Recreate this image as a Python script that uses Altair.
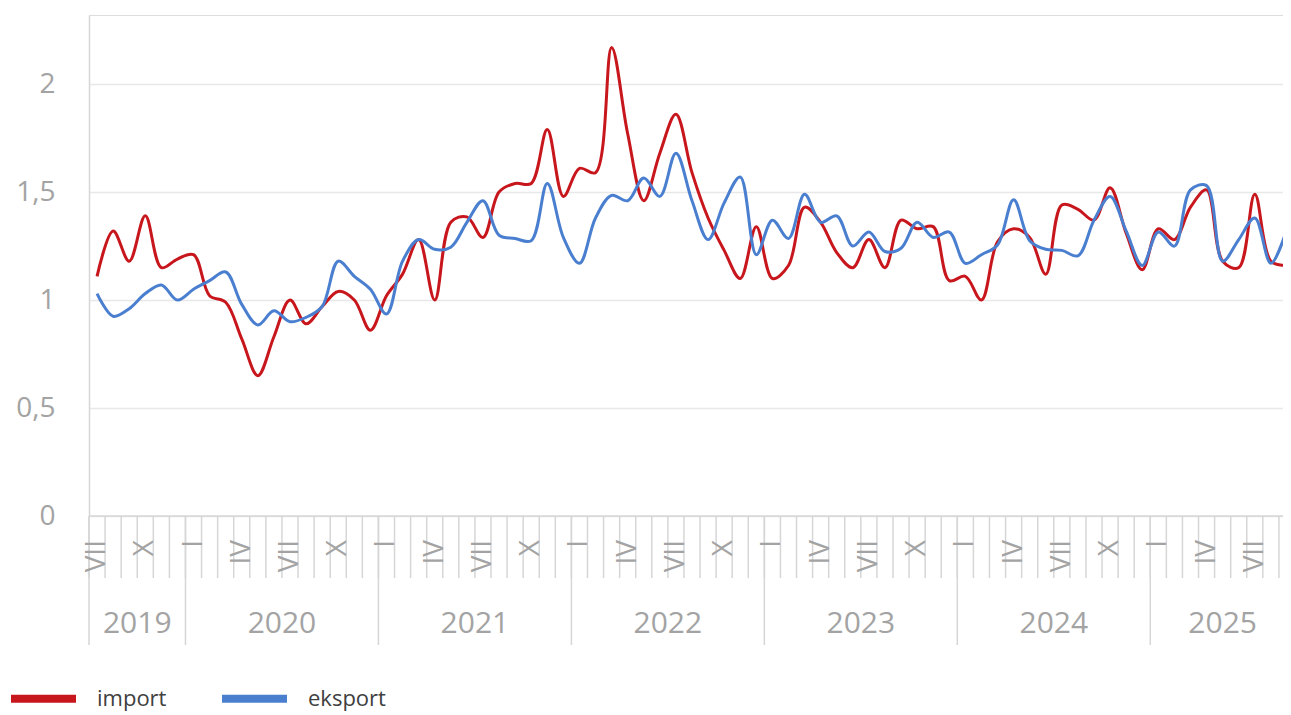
import altair as alt
import pandas as pd

# ---------------- data ----------------
ROMAN = ["I", "II", "III", "IV", "V", "VI", "VII", "VIII", "IX", "X", "XI", "XII"]
LABELLED_MONTHS = ["I", "IV", "VII", "X"]
START_YEAR, START_MONTH = 2019, 7
SERIES = ["import", "eksport"]

import_vals = [
    1.11, 1.32, 1.18, 1.39, 1.15, 1.19,                                  # 2019 VII-XII
    1.21, 1.02, 0.99, 0.82, 0.65, 0.83, 1.00, 0.89, 0.97, 1.04, 1.00, 0.86,  # 2020
    1.02, 1.12, 1.28, 1.00, 1.36, 1.385, 1.29, 1.50, 1.54, 1.54, 1.79, 1.48,  # 2021
    1.61, 1.59, 2.17, 1.77, 1.46, 1.68, 1.86, 1.59, 1.38, 1.23, 1.10, 1.34,  # 2022
    1.10, 1.16, 1.43, 1.36, 1.22, 1.15, 1.28, 1.15, 1.37, 1.33, 1.34, 1.09,  # 2023
    1.11, 1.00, 1.27, 1.33, 1.29, 1.12, 1.44, 1.42, 1.37, 1.52, 1.31, 1.14,  # 2024
    1.33, 1.28, 1.43, 1.51, 1.18, 1.15, 1.49, 1.18, 1.16,                    # 2025 I-IX
]
eksport_vals = [
    1.03, 0.925, 0.96, 1.03, 1.07, 1.00,
    1.05, 1.09, 1.13, 0.98, 0.885, 0.95, 0.90, 0.92, 0.97, 1.18, 1.11, 1.05,
    0.935, 1.18, 1.28, 1.235, 1.245, 1.36, 1.46, 1.30, 1.285, 1.275, 1.54, 1.29,
    1.17, 1.38, 1.485, 1.46, 1.565, 1.48, 1.68, 1.46, 1.28, 1.45, 1.57, 1.21,
    1.37, 1.285, 1.49, 1.36, 1.39, 1.25, 1.315, 1.225, 1.24, 1.36, 1.29, 1.315,
    1.17, 1.21, 1.255, 1.465, 1.275, 1.235, 1.23, 1.205, 1.37, 1.48, 1.32, 1.16,
    1.315, 1.25, 1.51, 1.53, 1.18, 1.28, 1.38, 1.17, 1.33,
]
Y_TICKS = [0, 0.5, 1, 1.5, 2]

# ---------------- tables ----------------
N = len(import_vals)
rows = []
for k in range(N):
    mm = (START_MONTH - 1 + k) % 12
    yy = START_YEAR + (START_MONTH - 1 + k) // 12
    rows.append({"idx": k, "year": yy, "month": ROMAN[mm],
                 "import": import_vals[k], "eksport": eksport_vals[k]})
months = pd.DataFrame(rows)

lines_df = months.melt(id_vars=["idx", "year", "month"], value_vars=SERIES,
                       var_name="series", value_name="value")

ticks_df = pd.DataFrame({"b": [k - 0.5 for k in range(N + 1)]})
long_b = [-0.5] + [r["idx"] - 0.5 for r in rows if r["month"] == "I"] + [N - 0.5]
long_df = pd.DataFrame({"b": long_b})
mlab_df = months[months["month"].isin(LABELLED_MONTHS)][["idx", "month"]]
year_df = months.groupby("year", as_index=False)["idx"].mean()
year_df["ylabel"] = year_df["year"].astype(str)
base_df = pd.DataFrame({"v": [0]})

# ---------------- style ----------------
FONT = "Open Sans"
RED = "#c8161d"
BLUE = "#4a7fd0"
GRAY_TXT = "#a3a3a3"
TICK = "#d6d6d6"
GRID = "#e8e8e8"
PX_PER_MONTH = 16.08          # the original plot runs slightly past the right edge
W, H = 1194, 501
x_end = -0.5 + W / PX_PER_MONTH

xscale = alt.Scale(domain=[-0.5, x_end], nice=False, zero=False)
yscale = alt.Scale(domain=[0, 2.32], nice=False, zero=True)

color = alt.Color(
    "series:N",
    scale=alt.Scale(domain=SERIES, range=[RED, BLUE]),
    legend=alt.Legend(
        title=None, orient="none", legendX=-82, legendY=647,
        direction="horizontal", symbolType="stroke", symbolSize=4225,
        symbolStrokeWidth=8, labelFontSize=22, labelColor="#404040",
        labelFont=FONT, labelOffset=17, columnPadding=39, padding=0,
    ),
)

yaxis = alt.Axis(
    values=Y_TICKS, format=".1~f", labelExpr="replace(datum.label, '.', ',')",
    ticks=False, tickSize=0, labelPadding=34, labelFontSize=28,
    labelColor=GRAY_TXT, labelFont=FONT, domain=True, domainColor=TICK,
    domainWidth=1.5, grid=True, gridColor=GRID, gridWidth=1.5, title=None,
)


def line_layer(name):
    return alt.Chart(lines_df).transform_filter(
        alt.datum.series == name
    ).mark_line(strokeWidth=3, interpolate="catmull-rom").encode(
        x=alt.X("idx:Q", scale=xscale, axis=None),
        y=alt.Y("value:Q", scale=yscale, axis=yaxis),
        color=color,
    )


baseline = alt.Chart(base_df).mark_rule(color=TICK, strokeWidth=1.5).encode(
    y=alt.Y("v:Q", scale=yscale), x=alt.value(0), x2=alt.value(W)
)

ticks = alt.Chart(ticks_df).mark_rule(color=TICK, strokeWidth=1.5).encode(
    x=alt.X("b:Q", scale=xscale, axis=None), y=alt.value(H), y2=alt.value(H + 62)
)
long_ticks = alt.Chart(long_df).mark_rule(color=TICK, strokeWidth=1.5).encode(
    x=alt.X("b:Q", scale=xscale, axis=None), y=alt.value(H), y2=alt.value(H + 129)
)
month_labels = alt.Chart(mlab_df).mark_text(
    angle=270, align="right", baseline="middle", fontSize=28,
    font=FONT, color=GRAY_TXT,
).encode(x=alt.X("idx:Q", scale=xscale, axis=None), y=alt.value(H + 24), text="month:N")

year_labels = alt.Chart(year_df).mark_text(
    align="center", baseline="middle", fontSize=30, font=FONT, color=GRAY_TXT
).encode(x=alt.X("idx:Q", scale=xscale, axis=None), y=alt.value(H + 108), text="ylabel:N")

chart = alt.layer(
    ticks, long_ticks, baseline, month_labels, year_labels,
    line_layer("import"), line_layer("eksport"),
).properties(
    width=W, height=H,
    autosize=alt.AutoSizeParams(type="none"),
    padding={"left": 81, "top": 7, "right": 0, "bottom": 215},
    background="white",
).configure_view(stroke=None).configure(font=FONT)

chart.save("out.html", embed_options={"renderer": "svg", "actions": False})
